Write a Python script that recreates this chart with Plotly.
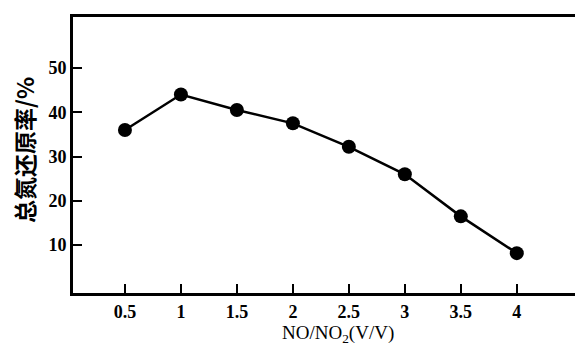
import plotly.graph_objects as go

ratio = [0.5, 1, 1.5, 2, 2.5, 3, 3.5, 4]
reduction = [36, 44, 40.5, 37.5, 32.2, 26, 16.5, 8.2]
x_ticks = [0.5, 1, 1.5, 2, 2.5, 3, 3.5, 4]
x_labels = ["0.5", "1", "1.5", "2", "2.5", "3", "3.5", "4"]
y_ticks = [10, 20, 30, 40, 50]

OFF = 8  # default body margin of the html page
W, H = 583 - 2 * OFF, 354 - 2 * OFF
L, R, T, B = 73 - OFF, 0, 17 - OFF, H - (293 - OFF)
pw, ph = W - L - R, H - T - B

def px(xp):
    return (xp - OFF - L) / pw

def py(yp):
    return (H - B - (yp - OFF)) / ph

fig = go.Figure()
fig.add_trace(go.Scatter(
    x=ratio, y=reduction, mode="lines+markers",
    line=dict(color="black", width=2.5),
    marker=dict(color="black", size=14),
    showlegend=False,
))

tickfont = dict(family="Liberation Serif", size=18, color="black", weight="bold")
axis_common = dict(ticks="inside", ticklen=9, tickwidth=2, tickcolor="black",
                   showline=True, linecolor="black", linewidth=3, mirror=True,
                   showgrid=False, zeroline=False, tickfont=tickfont, automargin=False)
fig.update_layout(
    width=W, height=H,
    margin=dict(l=L, r=R, t=T, b=B, autoexpand=False),
    paper_bgcolor="white", plot_bgcolor="white",
    xaxis=dict(range=[0.036, 4.52], tickvals=x_ticks, ticktext=x_labels, **axis_common),
    yaxis=dict(range=[-0.8, 61.5], tickvals=y_ticks, **axis_common),
)
fig.add_annotation(text="NO/NO<sub>2</sub>(V/V)",
                   x=px(338), y=py(334), xref="paper", yref="paper",
                   xanchor="center", yanchor="middle", showarrow=False,
                   font=dict(family="Liberation Serif", size=19, color="black"))
fig.add_annotation(text="总氮还原率/%", textangle=-90,
                   x=px(24), y=py(150), xref="paper", yref="paper",
                   xanchor="center", yanchor="middle", showarrow=False,
                   font=dict(family="Noto Sans CJK SC", size=23, color="black", weight="bold"))
fig.write_html("out.html")
